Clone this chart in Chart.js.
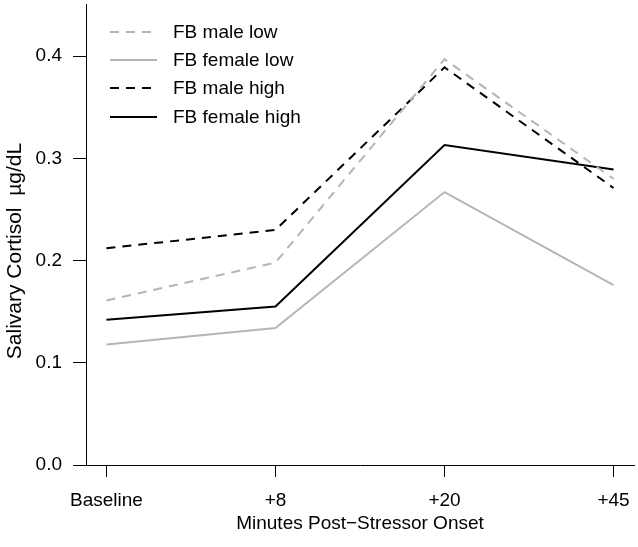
<!DOCTYPE html>
<html>
<head>
<meta charset="utf-8">
<script src="https://cdn.jsdelivr.net/npm/chart.js@4.4.1/dist/chart.umd.min.js"></script>
<style>
  html, body { margin: 0; padding: 0; background: #ffffff; }
  #wrap { width: 638px; height: 547px; }
</style>
</head>
<body>
<div id="wrap"><canvas id="c" width="638" height="547"></canvas></div>
<script>
const categories = ['Baseline', '+8', '+20', '+45'];
const maleLow    = [0.161, 0.198, 0.397, 0.280];
const femaleLow  = [0.118, 0.134, 0.267, 0.176];
const maleHigh   = [0.212, 0.230, 0.389, 0.271];
const femaleHigh = [0.142, 0.155, 0.313, 0.289];
const seriesNames = ['FB male low', 'FB female low', 'FB male high', 'FB female high'];
const yTicks = [0.0, 0.1, 0.2, 0.3, 0.4];
const xTitle = 'Minutes Post\u2212Stressor Onset';
const yTitle = 'Salivary Cortisol  \u00b5g/dL';

const FONT = '"Liberation Sans", Arial, Helvetica, sans-serif';
const GREY = '#b5b5b5';

function pts(arr) { return arr.map((v, i) => ({ x: i, y: v })); }

const styles = [
  { color: GREY, dash: [9, 7] },
  { color: GREY, dash: [] },
  { color: '#000000', dash: [9, 7] },
  { color: '#000000', dash: [] }
];
const allSeries = [maleLow, femaleLow, maleHigh, femaleHigh];

const datasets = allSeries.map((s, i) => ({
  label: seriesNames[i],
  data: pts(s),
  borderColor: styles[i].color,
  borderDash: styles[i].dash,
  borderWidth: 2,
  pointRadius: 0,
  fill: false,
  tension: 0
}));

const customDraw = {
  id: 'customDraw',
  afterDraw(chart) {
    const ctx = chart.ctx;
    ctx.save();
    // legend
    const rowY = [32, 60, 88, 117];
    chart.data.datasets.forEach((ds, i) => {
      ctx.beginPath();
      ctx.setLineDash(ds.borderDash);
      ctx.strokeStyle = ds.borderColor;
      ctx.lineWidth = 2;
      ctx.moveTo(110, rowY[i]);
      ctx.lineTo(157, rowY[i]);
      ctx.stroke();
      ctx.setLineDash([]);
      ctx.fillStyle = '#000';
      ctx.font = '19px ' + FONT;
      ctx.textAlign = 'left';
      ctx.textBaseline = 'middle';
      ctx.fillText(ds.label, 173, rowY[i] + 1);
    });
    // y title
    ctx.translate(15, 251);
    ctx.rotate(-Math.PI / 2);
    ctx.textAlign = 'center';
    ctx.textBaseline = 'middle';
    ctx.font = '21px ' + FONT;
    ctx.fillStyle = '#000';
    ctx.fillText(yTitle, 0, 0);
    ctx.restore();
  }
};

new Chart(document.getElementById('c'), {
  type: 'line',
  data: { datasets },
  options: {
    responsive: false,
    animation: false,
    devicePixelRatio: 1,
    layout: { padding: { top: 4, right: 4, left: 0, bottom: 0 } },
    plugins: { legend: { display: false }, tooltip: { enabled: false } },
    scales: {
      x: {
        type: 'linear',
        min: -0.121,
        max: 3.121,
        afterBuildTicks: (scale) => { scale.ticks = categories.map((_, i) => ({ value: i })); },
        afterFit: (scale) => { scale.height = 82; scale.paddingLeft = 0; scale.paddingRight = 0; },
        ticks: {
          callback: (v) => categories[v],
          font: { size: 19, family: FONT },
          color: '#000',
          padding: 12,
          maxRotation: 0,
          autoSkip: false
        },
        grid: { drawOnChartArea: false, drawTicks: true, tickLength: 12, color: '#000', lineWidth: 1 },
        border: { display: true, color: '#000', width: 1 },
        title: {
          display: true,
          text: xTitle,
          font: { size: 19, family: FONT },
          color: '#000',
          padding: { top: 4, bottom: 12 }
        }
      },
      y: {
        type: 'linear',
        min: 0,
        max: 0.451,
        afterBuildTicks: (scale) => { scale.ticks = yTicks.map(v => ({ value: v })); },
        afterFit: (scale) => { scale.width = 86; scale.paddingTop = 0; scale.paddingBottom = 0; },
        ticks: {
          callback: (v) => Number(v).toFixed(1),
          font: { size: 19, family: FONT },
          color: '#000',
          padding: 11
        },
        grid: { drawOnChartArea: false, drawTicks: true, tickLength: 13, color: '#000', lineWidth: 1 },
        border: { display: true, color: '#000', width: 1 }
      }
    }
  },
  plugins: [customDraw]
});
</script>
</body>
</html>
